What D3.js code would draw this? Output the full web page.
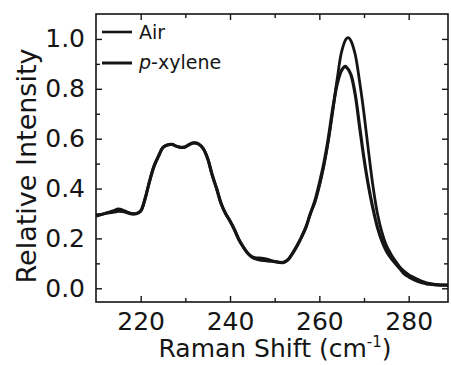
<!DOCTYPE html>
<html>
<head>
<meta charset="utf-8">
<script src="https://d3js.org/d3.v7.min.js"></script>
<style>
  body { margin: 0; background: #fff; }
  svg text { font-family: "DejaVu Sans", Arial, sans-serif; fill: #151515; }
</style>
</head>
<body>
<div id="chart"></div>
<script>
// Raman shift (cm-1) sample points
var shiftAir = [210,212,214,215,216,217,218,219,220,221,222,223,224,225,226,227,228,229,230,231,232,233,234,235,236,237,238,239,240,241,242,243,244,245,246,247,248,249,250,251,252,253,254,255,256,257,258,259,260,261,262,263,264,265,266,266.5,267,268,269,270,271,272,273,274,275,276,277,278,279,280,281,282,283,284,286,288.8];
var air = [0.29,0.30,0.312,0.318,0.314,0.306,0.30,0.30,0.31,0.36,0.43,0.49,0.53,0.565,0.575,0.577,0.57,0.565,0.567,0.578,0.583,0.578,0.56,0.52,0.455,0.40,0.34,0.30,0.27,0.235,0.195,0.165,0.14,0.126,0.122,0.121,0.118,0.113,0.108,0.104,0.104,0.115,0.14,0.17,0.205,0.245,0.30,0.345,0.41,0.49,0.59,0.71,0.84,0.95,1.0,1.005,0.995,0.94,0.83,0.70,0.55,0.41,0.30,0.225,0.172,0.138,0.11,0.086,0.068,0.055,0.045,0.036,0.028,0.022,0.016,0.013];

var shiftPx = [210,212,214,215,216,217,218,219,220,221,222,223,224,225,226,227,228,229,230,231,232,233,234,235,236,237,238,239,240,241,242,243,244,245,246,247,248,249,250,251,252,253,254,255,256,257,258,259,260,261,262,263,264,265,265.8,266,267,268,269,270,271,272,273,274,275,276,277,278,279,280,281,282,283,284,285,286,288.8];
var pxylene = [0.29,0.30,0.306,0.309,0.308,0.303,0.298,0.299,0.31,0.36,0.43,0.49,0.53,0.565,0.575,0.577,0.57,0.565,0.567,0.578,0.583,0.578,0.56,0.52,0.455,0.40,0.34,0.30,0.27,0.235,0.195,0.165,0.14,0.124,0.117,0.113,0.111,0.109,0.107,0.104,0.104,0.115,0.14,0.17,0.205,0.245,0.30,0.35,0.42,0.50,0.60,0.72,0.82,0.875,0.89,0.888,0.86,0.78,0.65,0.52,0.41,0.32,0.245,0.19,0.15,0.122,0.10,0.08,0.058,0.046,0.036,0.028,0.022,0.018,0.016,0.014,0.013];

var seriesNames = ["Air", "p-xylene"];
var xTicks = [220, 240, 260, 280];
var xMinor = [230, 250, 270];
var yTicks = [0.0, 0.2, 0.4, 0.6, 0.8, 1.0];
var yMinor = [0.1, 0.3, 0.5, 0.7, 0.9];

var W = 451, H = 365;
var m = {left: 96, top: 14, right: 448, bottom: 302};

var svg = d3.select("#chart").append("svg")
    .attr("width", W)
    .attr("height", H);

var x = d3.scaleLinear().domain([210, 288.8]).range([m.left, m.right]);
var y = d3.scaleLinear().domain([-0.055, 1.10]).range([m.bottom, m.top]);

// axes, ticks pointing inward
function styleAxis(g) {
  g.select(".domain").remove();
  g.selectAll(".tick line").attr("stroke", "#151515").attr("stroke-width", 1.4);
  g.selectAll("text").attr("font-size", 25).attr("fill", "#151515");
}

svg.append("g").attr("transform", "translate(0," + m.bottom + ")")
  .call(d3.axisBottom(x).tickValues(xTicks).tickSize(-6).tickPadding(10).tickFormat(d3.format("d")))
  .call(styleAxis);
svg.append("g").attr("transform", "translate(0," + m.bottom + ")")
  .call(d3.axisBottom(x).tickValues(xMinor).tickSize(-4).tickFormat(""))
  .call(styleAxis);
svg.append("g").attr("transform", "translate(0," + m.top + ")")
  .call(d3.axisTop(x).tickValues(xTicks).tickSize(-6).tickFormat(""))
  .call(styleAxis);
svg.append("g").attr("transform", "translate(0," + m.top + ")")
  .call(d3.axisTop(x).tickValues(xMinor).tickSize(-4).tickFormat(""))
  .call(styleAxis);

svg.append("g").attr("transform", "translate(" + m.left + ",0)")
  .call(d3.axisLeft(y).tickValues(yTicks).tickSize(-6).tickPadding(11).tickFormat(d3.format(".1f")))
  .call(styleAxis);
svg.append("g").attr("transform", "translate(" + m.left + ",0)")
  .call(d3.axisLeft(y).tickValues(yMinor).tickSize(-4).tickFormat(""))
  .call(styleAxis);
svg.append("g").attr("transform", "translate(" + m.right + ",0)")
  .call(d3.axisRight(y).tickValues(yTicks).tickSize(-6).tickFormat(""))
  .call(styleAxis);
svg.append("g").attr("transform", "translate(" + m.right + ",0)")
  .call(d3.axisRight(y).tickValues(yMinor).tickSize(-4).tickFormat(""))
  .call(styleAxis);

// frame
svg.append("rect")
  .attr("x", m.left).attr("y", m.top)
  .attr("width", m.right - m.left).attr("height", m.bottom - m.top)
  .attr("fill", "none").attr("stroke", "#151515").attr("stroke-width", 1.6);

// curves
var clip = svg.append("clipPath").attr("id", "clip").append("rect")
  .attr("x", m.left).attr("y", m.top)
  .attr("width", m.right - m.left).attr("height", m.bottom - m.top);

var line = d3.line()
  .x(function(d) { return x(d[0]); })
  .y(function(d) { return y(d[1]); })
  .curve(d3.curveCatmullRom);

var airData = shiftAir.map(function(s, i) { return [s, air[i]]; });
var pxData = shiftPx.map(function(s, i) { return [s, pxylene[i]]; });

svg.append("path").datum(pxData)
  .attr("clip-path", "url(#clip)")
  .attr("d", line)
  .attr("fill", "none").attr("stroke", "#151515").attr("stroke-width", 3.2)
  .attr("stroke-linejoin", "round");
svg.append("path").datum(airData)
  .attr("clip-path", "url(#clip)")
  .attr("d", line)
  .attr("fill", "none").attr("stroke", "#151515").attr("stroke-width", 2.8)
  .attr("stroke-linejoin", "round");

// legend
var leg = svg.append("g");
[0, 1].forEach(function(i) {
  var ly = [32, 63][i];
  leg.append("line")
    .attr("x1", 102).attr("x2", 132).attr("y1", ly).attr("y2", ly)
    .attr("stroke", "#151515").attr("stroke-width", i == 0 ? 2.6 : 3.0);
});
leg.append("text").attr("x", 139).attr("y", 38.5).attr("font-size", 19).text(seriesNames[0]);
var t2 = leg.append("text").attr("x", 139).attr("y", 68.5).attr("font-size", 19);
t2.append("tspan").attr("font-style", "italic").text("p");
t2.append("tspan").text("-xylene");

// axis titles
var xt = svg.append("text")
  .attr("x", 275).attr("y", 357)
  .attr("text-anchor", "middle")
  .attr("font-size", 25);
xt.append("tspan").text("Raman Shift (cm");
xt.append("tspan").attr("font-size", 15).attr("dy", -10).text("-1");
xt.append("tspan").attr("dy", 10).text(")");

svg.append("text")
  .attr("transform", "translate(36,166) rotate(-90)")
  .attr("text-anchor", "middle")
  .attr("font-size", 27)
  .text("Relative Intensity");
</script>
</body>
</html>
